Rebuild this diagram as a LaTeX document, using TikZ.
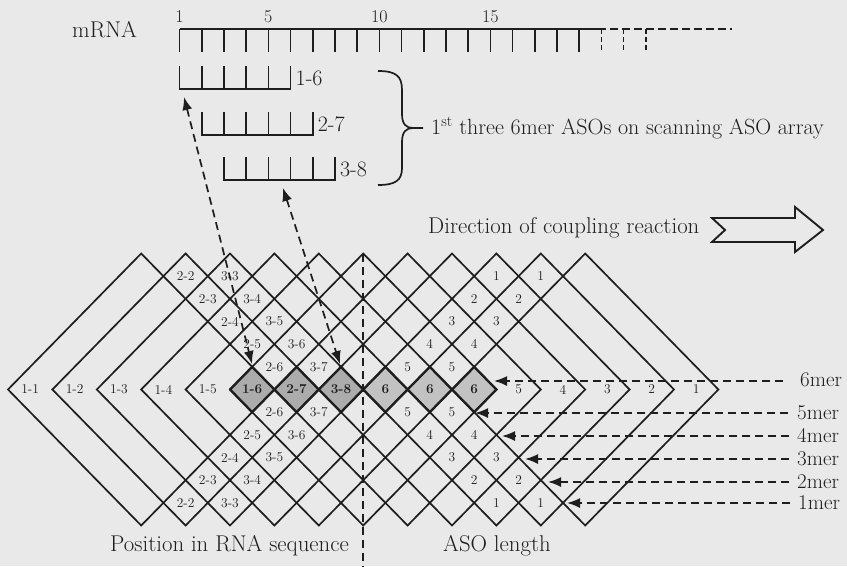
\documentclass[tikz,border=0pt]{standalone}
\usetikzlibrary{arrows.meta}
\definecolor{bg}{RGB}{233,233,233}
\definecolor{ink}{RGB}{30,30,30}
\definecolor{shadeA}{RGB}{172,172,172}
\definecolor{shadeB}{RGB}{194,194,194}
\begin{document}
\begin{tikzpicture}[x=1pt,y=-1pt,
  grid/.style={draw=ink,line width=1.7pt,line join=miter},
  lab/.style={font=\fontsize{13.5}{15}\selectfont,text=ink,inner sep=0pt},
  blab/.style={font=\fontsize{13.5}{15}\selectfont\bfseries,text=ink,inner sep=0pt},
  txt/.style={font=\fontsize{22.8}{26}\selectfont,text=ink,inner sep=0pt},
  mer/.style={font=\fontsize{21}{24}\selectfont,text=ink,inner sep=0pt,anchor=west},
  num/.style={font=\fontsize{18}{20}\selectfont,text=ink,inner sep=0pt},
  ruler/.style={draw=ink,line width=1.6pt},
  dashline/.style={draw=ink,line width=1.7pt,dash pattern=on 8pt off 5pt},
  dasharrow/.style={dashline,-{Latex[length=13pt,width=10pt]}},
]
\fill[bg] (0,0) rectangle (847,566);
\useasboundingbox (0,0) rectangle (847,566);

% shaded cells
\foreach \u/\c in {5.5/shadeA,6.5/shadeA,7.5/shadeA,8.5/shadeB,9.5/shadeB,10.5/shadeB}
  \fill[\c] ({8+\u*44.4-22.2},389.5) -- ({8+\u*44.4},{389.5-22.667}) -- ({8+\u*44.4+22.2},389.5) -- ({8+\u*44.4},{389.5+22.667}) -- cycle;

% the eleven overlapping squares
\foreach \k in {0,...,10}
  \draw[grid] ({8+\k*44.4},389.5) -- ({8+(\k+3)*44.4},253.5) -- ({8+(\k+6)*44.4},389.5) -- ({8+(\k+3)*44.4},525.5) -- cycle;

% outline of the shaded strip
\draw[draw=ink,line width=2.3pt,line join=miter] ({8+5*44.4},389.5)
  \foreach \i in {0,...,5} { -- ({8+(5.5+\i)*44.4},{389.5-22.667}) -- ({8+(6+\i)*44.4},389.5) }
  \foreach \i in {5,...,0} { -- ({8+(5.5+\i)*44.4},{389.5+22.667}) -- ({8+(5+\i)*44.4},389.5) };

% cell labels
\foreach \u/\m/\t [count=\n] in {0.5/0/1-1,1.5/0/1-2,2.5/0/1-3,3.5/0/1-4,4.5/0/1-5,
  11.5/0/5,12.5/0/4,13.5/0/3,14.5/0/2,15.5/0/1,
  6/-1/2-6,7/-1/3-7,9/-1/5,10/-1/5, 6/1/2-6,7/1/3-7,9/1/5,10/1/5,
  5.5/-2/2-5,6.5/-2/3-6,9.5/-2/4,10.5/-2/4, 5.5/2/2-5,6.5/2/3-6,9.5/2/4,10.5/2/4,
  5/-3/2-4,6/-3/3-5,10/-3/3,11/-3/3, 5/3/2-4,6/3/3-5,10/3/3,11/3/3,
  4.5/-4/2-3,5.5/-4/3-4,10.5/-4/2,11.5/-4/2, 4.5/4/2-3,5.5/4/3-4,10.5/4/2,11.5/4/2,
  4/-5/2-2,5/-5/3-3,11/-5/1,12/-5/1, 4/5/2-2,5/5/3-3,11/5/1,12/5/1}
  \node[lab] (cell\n) at ({8+\u*44.4},{389.5+\m*22.667}) {\t};
\foreach \u/\t [count=\n] in {5.5/1-6,6.5/2-7,7.5/3-8,8.5/6,9.5/6,10.5/6}
  \node[blab] (bold\n) at ({8+\u*44.4},389.5) {\t};

% vertical dashed divider
\coordinate (vtop) at ({8+8*44.4},253.5);
\coordinate (vbot) at ({8+8*44.4},566);
\draw[dashline] (vtop) -- (vbot);

% bottom captions
\node[txt,anchor=west] (pos) at (110,546) {Position in RNA sequence};
\node[txt,anchor=west] (len) at (443,546) {ASO length};

% mRNA ruler
\node[txt,anchor=west] (mrna) at (72,30) {mRNA};
\foreach \k in {0,...,18}
  \draw[ruler] ({179.5+\k*22.2},29) -- ({179.5+\k*22.2},52);
\foreach \k in {19,20,21}
  \draw[ruler,dash pattern=on 5pt off 3pt] ({179.5+\k*22.2},29) -- ({179.5+\k*22.2},52);
\draw[ruler] (179.5,29) -- (598,29);
\draw[ruler,dash pattern=on 8pt off 4pt] (598,29) -- (732,29);
\foreach \k/\t in {0/1,4/5,9/10,14/15}
  \node[num] (n\t) at ({179.5+\k*22.2},17) {\t};

% ASO bars
\foreach \s/\y/\t in {0/89/1-6,1/135/2-7,2/180/3-8}{
  \draw[ruler] ({179.5+\s*22.2},{\y-23}) -- ({179.5+\s*22.2},\y) -- ({179.5+(\s+5)*22.2},\y) -- ({179.5+(\s+5)*22.2},{\y-23});
  \foreach \j in {1,...,4}
    \draw[ruler] ({179.5+(\s+\j)*22.2},{\y-23}) -- ({179.5+(\s+\j)*22.2},\y);
  \node[txt,font=\fontsize{22}{25}\selectfont,anchor=west] (aso\t) at ({179.5+(\s+5)*22.2+5},{\y-11}) {\t};
}

% brace and its text
\draw[draw=ink,line width=1.7pt] (378,71) .. controls (396,71) and (402,76) .. (402,90) -- (402,114)
  .. controls (402,124) and (406,128) .. (413,128) -- (423,128);
\draw[draw=ink,line width=1.7pt] (413,128) .. controls (406,128) and (402,132) .. (402,142) -- (402,168)
  .. controls (402,180) and (396,185) .. (378,185);
\node[txt,font=\fontsize{22}{25}\selectfont,anchor=west] (arraytxt) at (431,128) {1\textsuperscript{st} three 6mer ASOs on scanning ASO array};

% direction of coupling
\node[txt,anchor=west] (dir) at (428,228) {Direction of coupling reaction};
\draw[draw=ink,line width=1.9pt,line join=miter] (712,218) -- (795,218) -- (795,207) -- (823,230) -- (795,252) -- (795,242) -- (712,242) -- (725,230) -- cycle;

% arrows between array cells and ASO bars
\coordinate (asoA) at (184,97);
\coordinate (cellA) at (252,364);
\coordinate (asoB) at (283,188);
\coordinate (cellB) at (340,364);
\draw[dashline,{Latex[length=13pt,width=10pt]}-{Latex[length=13pt,width=10pt]}] (asoA) -- (cellA);
\draw[dashline,{Latex[length=13pt,width=10pt]}-{Latex[length=13pt,width=10pt]}] (asoB) -- (cellB);

% length arrows
\foreach \y/\tx/\sx/\t in {381/494/783/6mer,413/475/788/5mer,436/502/789/4mer,459/525/789/3mer,482/548/789/2mer,503/567/790/1mer}{
  \coordinate (s\t) at (\sx,\y);
  \coordinate (e\t) at (\tx,\y);
  \draw[dasharrow] (s\t) -- (e\t);
}
\node[mer] (l6) at (800,380) {6mer};
\node[mer] (l5) at (797,413) {5mer};
\node[mer] (l4) at (797,436) {4mer};
\node[mer] (l3) at (797,459) {3mer};
\node[mer] (l2) at (797,482) {2mer};
\node[mer] (l1) at (798,503) {1mer};
\end{tikzpicture}
\end{document}
